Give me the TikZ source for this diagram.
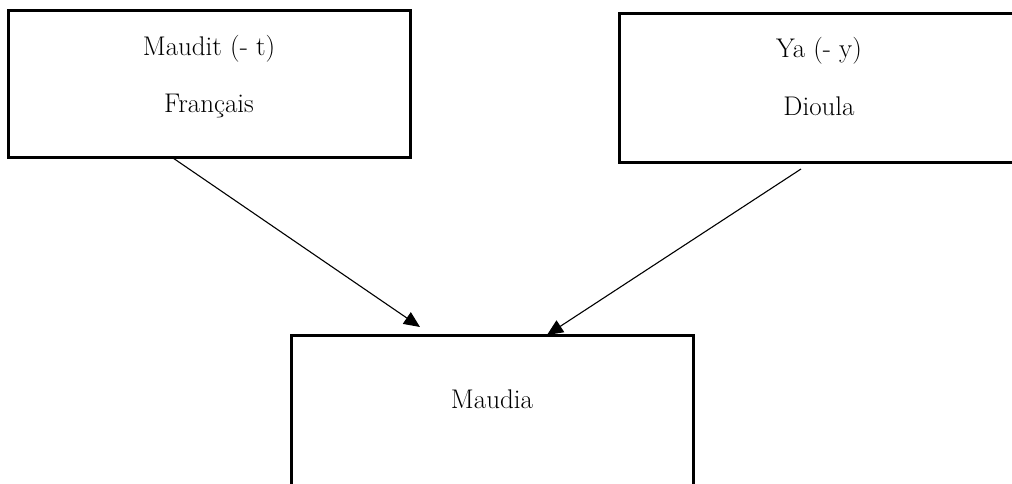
\documentclass[tikz,border=0pt]{standalone}
\usetikzlibrary{arrows.meta}
\begin{document}
\begin{tikzpicture}[x=1pt,y=-1pt,
  box/.style={draw=black,line width=3pt,inner sep=0pt},
  lbl/.style={anchor=base,inner sep=0pt,font=\fontsize{27}{32}\selectfont},
  conn/.style={line width=1.1pt,-{Triangle[length=16pt,width=14pt]}}]
\useasboundingbox (0,0) rectangle (1012,483);
\clip (0,0) rectangle (1012,483);
\node[box,minimum width=402pt,minimum height=147pt] (fr) at (209,83.5) {};
\node[box,minimum width=400pt,minimum height=149pt] (di) at (819,87.5) {};
\node[box,minimum width=402pt,minimum height=150pt] (ma) at (492,410) {};
\node[lbl] (t1) at (209,55) {Maudit (- t)};
\node[lbl] (t2) at (209,112) {Français};
\node[lbl] (t3) at (819,57) {Ya (- y)};
\node[lbl] (t4) at (819,115) {Dioula};
\node[lbl] (t5) at (492,408) {Maudia};
\coordinate (s1) at (173,158);
\coordinate (e1) at (420,327);
\coordinate (s2) at (801,169);
\coordinate (e2) at (547,335);
\draw[conn] (s1) -- (e1);
\draw[conn] (s2) -- (e2);
\end{tikzpicture}
\end{document}
